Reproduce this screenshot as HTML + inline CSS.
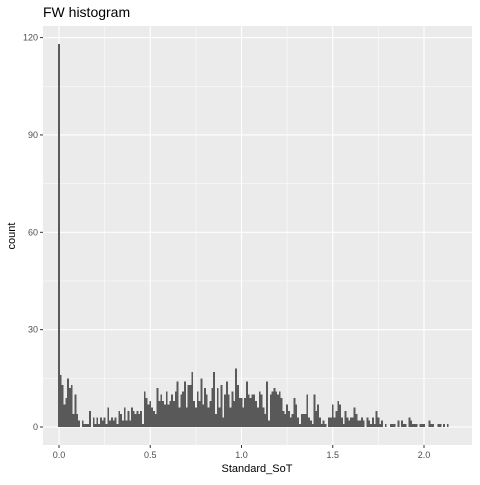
<!DOCTYPE html>
<html><head><meta charset="utf-8"><style>
body{margin:0;background:#fff;font-family:"Liberation Sans",sans-serif}
</style></head><body>
<svg id="chart" width="480" height="480" xmlns="http://www.w3.org/2000/svg">
<rect width="480" height="480" fill="#fff"/>
<text x="43" y="17" font-size="14" fill="#000">FW histogram</text>
<rect x="43" y="26" width="429" height="419" fill="#ebebeb"/>
<g id="grid"></g><g id="bars" shape-rendering="crispEdges"></g><g id="axes"></g>
<text x="257" y="472" font-size="11" text-anchor="middle" fill="#000">Standard_SoT</text>
<text transform="translate(15,236) rotate(-90)" font-size="11" text-anchor="middle" fill="#000">count</text>
</svg>
<script>
const counts=[118,16,13,7,9,15,12,13,4,10,4,2,0,2,1,1,1,5,0,3,1,3,1,3,2,3,1,6,2,3,2,3,1,5,4,2,6,2,5,2,6,5,4,5,4,5,1,11,9,7,8,6,5,4,12,8,10,8,7,11,7,8,10,8,11,14,6,10,11,
14,6,13,13,17,8,6,11,8,15,7,12,10,6,8,12,17,4,12,6,13,3,10,14,10,6,11,8,18,13,9,9,6,9,14,10,9,10,10,8,6,11,10,6,4,14,2,10,11,12,11,10,11,9,5,4,7,5,3,4,9,7,3,1,4,4,4,10,3,2,1,10,5,7,3,1,2,
1,0,3,3,7,3,5,8,7,3,1,5,3,2,3,3,6,4,2,2,3,2,0,3,2,1,3,1,5,3,1,2,0,1,0,0,1,1,1,0,2,0,2,1,1,0,3,2,1,1,1,0,1,1,1,0,0,2,1,1,0,0,1,1,0,1,0,1];
const binWidth=0.01;
const xTicks=[0,0.5,1,1.5,2];
const xTickLabels=["0.0","0.5","1.0","1.5","2.0"];
const yTicks=[0,30,60,90,120];
const NS="http://www.w3.org/2000/svg";
const X=v=>59+v*182.5, Y=v=>427-v*3.245;
const L=43,R=472,T=26,B=445;
function mk(tag,attrs,parent){const e=document.createElementNS(NS,tag);for(const k in attrs)e.setAttribute(k,attrs[k]);parent.appendChild(e);return e;}
const grid=document.getElementById('grid'),bars=document.getElementById('bars'),axes=document.getElementById('axes');
for(let i=0;i<xTicks.length;i++){
  const x=X(xTicks[i]);
  if(i<xTicks.length-1){const m=X((xTicks[i]+xTicks[i+1])/2);const g=mk('line',{x1:m,x2:m,y1:T,y2:B,stroke:'#fff','stroke-width':0.5},grid);}
  const g=mk('line',{x1:x,x2:x,y1:T,y2:B,stroke:'#fff','stroke-width':1.1},grid);
  
  const t=mk('line',{x1:x,x2:x,y1:B,y2:B+3,stroke:'#333'},axes);
  
  const l=mk('text',{x:x,y:B+13,'font-size':9,'text-anchor':'middle',fill:'#4d4d4d'},axes);l.textContent=xTickLabels[i];
  
}
for(let i=0;i<yTicks.length;i++){
  const y=Y(yTicks[i]);
  const g=mk('line',{x1:L,x2:R,y1:y,y2:y,stroke:'#fff','stroke-width':1.1},grid);
  
  if(i<yTicks.length-1){const m=Y((yTicks[i]+yTicks[i+1])/2);const n=mk('line',{x1:L,x2:R,y1:m,y2:m,stroke:'#fff','stroke-width':0.5},grid);}
  const t=mk('line',{x1:L-3,x2:L,y1:y,y2:y,stroke:'#333'},axes);
  
  const l=mk('text',{x:L-5,y:y+3,'font-size':9,'text-anchor':'end',fill:'#4d4d4d'},axes);l.textContent=yTicks[i];
  
}
counts.forEach((c,i)=>{
  if(c<=0)return;
  const x0=X(i*binWidth-binWidth/2),x1=X(i*binWidth+binWidth/2);
  const r=mk('rect',{x:x0,y:Y(c),width:x1-x0,height:Y(0)-Y(c),fill:'#595959'},bars);
  
  
});
</script>
</body></html>
